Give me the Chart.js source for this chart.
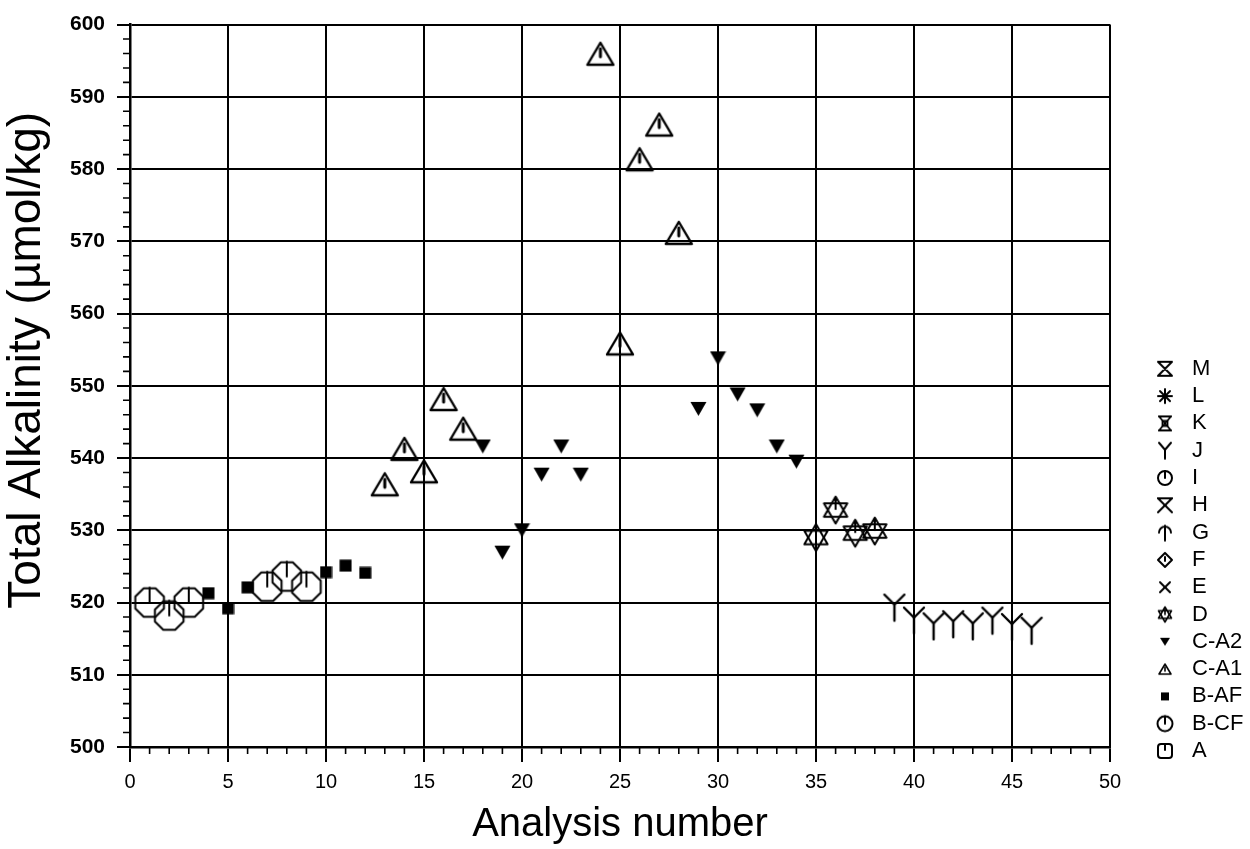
<!DOCTYPE html>
<html>
<head>
<meta charset="utf-8">
<script src="https://cdn.jsdelivr.net/npm/chart.js@4.4.0/dist/chart.umd.min.js"></script>
<style>
  html, body { margin: 0; padding: 0; background: #fff; }
  #wrap { width: 1250px; height: 849px; }
</style>
</head>
<body>
<div id="wrap"><canvas id="alkChart"></canvas></div>
<script>
// series names in legend order (drawn bottom-up, A at the bottom)
const seriesNames = ['A', 'B-CF', 'B-AF', 'C-A1', 'C-A2', 'D', 'E', 'F', 'G', 'H', 'I', 'J', 'K', 'L', 'M'];

// analysis number / total alkalinity (umol/kg)
const bcfX = [1, 2, 3, 7, 8, 9];
const bcfY = [520, 518.2, 520, 522.2, 523.6, 522.2];
const bafX = [4, 5, 6, 10, 11, 12];
const bafY = [521.3, 519.2, 522.1, 524.2, 525.1, 524.1];
const ca1X = [13, 14, 15, 16, 17, 24, 25, 26, 27, 28];
const ca1Y = [536.3, 541.2, 538.1, 548.1, 544, 595.9, 555.8, 581.3, 586.1, 571.1];
const ca2X = [18, 19, 20, 21, 22, 23, 29, 30, 31, 32, 33, 34];
const ca2Y = [541.6, 526.9, 530, 537.7, 541.6, 537.7, 546.8, 553.8, 548.8, 546.6, 541.6, 539.5];
const dX = [35, 36, 37, 38];
const dY = [529, 532.8, 529.6, 529.9];
const jX = [39, 40, 41, 42, 43, 44, 45, 46];
const jY = [519.3, 517.5, 516.7, 517, 516.7, 517.5, 516.6, 516.1];

// axes
const xTickValues = [0, 5, 10, 15, 20, 25, 30, 35, 40, 45, 50];
const yTickValues = [500, 510, 520, 530, 540, 550, 560, 570, 580, 590, 600];
const xMinorStep = 1;
const yMinorStep = 2;

const seriesData = {
  'B-CF': [bcfX, bcfY],
  'B-AF': [bafX, bafY],
  'C-A1': [ca1X, ca1Y],
  'C-A2': [ca2X, ca2Y],
  'D': [dX, dY],
  'J': [jX, jY]
};

const FONT = '"Liberation Sans", Arial, Helvetica, sans-serif';

// ---- marker glyphs, drawn on little canvases ----
function icon(w, h, draw, lw) {
  const c = document.createElement('canvas');
  c.width = w; c.height = h;
  const g = c.getContext('2d');
  g.strokeStyle = '#000'; g.fillStyle = '#000';
  g.lineWidth = lw || 2; g.lineJoin = 'round'; g.lineCap = 'round';
  draw(g);
  return c;
}
function line(g, x1, y1, x2, y2) {
  g.beginPath(); g.moveTo(x1, y1); g.lineTo(x2, y2); g.stroke();
}
function poly(g, pts, fill) {
  g.beginPath();
  pts.forEach((p, i) => i ? g.lineTo(p[0], p[1]) : g.moveTo(p[0], p[1]));
  g.closePath();
  fill ? g.fill() : g.stroke();
}
function octagon(g, cx, cy, r) {
  const pts = [];
  for (let i = 0; i < 8; i++) {
    const a = Math.PI / 8 + i * Math.PI / 4;
    pts.push([cx + r * Math.cos(a), cy + r * Math.sin(a)]);
  }
  poly(g, pts);
}
function hexagram(g, cx, cy, r) {
  const up = [], dn = [];
  for (let i = 0; i < 3; i++) {
    const a = -Math.PI / 2 + i * 2 * Math.PI / 3;
    up.push([cx + r * Math.cos(a), cy + r * Math.sin(a)]);
    dn.push([cx + r * Math.cos(a + Math.PI), cy + r * Math.sin(a + Math.PI)]);
  }
  poly(g, up); poly(g, dn);
}

const plotIcons = {
  'B-CF': icon(34, 34, g => { octagon(g, 17, 17, 15.5); line(g, 17, 2, 17, 17); }),
  'B-AF': icon(13, 13, g => g.fillRect(0.5, 0.5, 12, 12)),
  'C-A1': icon(30, 27, g => { poly(g, [[15, 2], [28, 24], [2, 24]]); g.lineWidth = 3; line(g, 15, 8, 15, 16); }, 2.4),
  'C-A2': icon(17, 16, g => poly(g, [[0.5, 1], [16.5, 1], [8.5, 15]], true)),
  'D': icon(30, 32, g => { hexagram(g, 15, 16, 13.5); line(g, 15, 4, 15, 15); }),
  'J': icon(24, 30, g => { line(g, 2, 2, 12, 12); line(g, 22, 2, 12, 12); line(g, 12, 12, 12, 28); }, 2.4)
};

const legendIcons = {
  'M': icon(20, 20, g => poly(g, [[3, 3], [17, 3], [3, 17], [17, 17]])),
  'L': icon(20, 20, g => { line(g, 10, 3, 10, 17); line(g, 3, 10, 17, 10); line(g, 5, 5, 15, 15); line(g, 15, 5, 5, 15); }),
  'K': icon(20, 20, g => { line(g, 4, 3, 16, 3); line(g, 4, 17, 16, 17); line(g, 4, 3, 16, 17); line(g, 16, 3, 4, 17); g.strokeRect(7.5, 7.5, 5, 5); }, 1.8),
  'J': icon(20, 20, g => { line(g, 4, 2, 10, 9); line(g, 16, 2, 10, 9); line(g, 10, 9, 10, 18); }),
  'I': icon(20, 20, g => { g.beginPath(); g.arc(10, 10, 7, 0, 2 * Math.PI); g.stroke(); line(g, 10, 3, 10, 10); }),
  'H': icon(20, 20, g => { line(g, 3, 3, 17, 3); line(g, 3, 3, 17, 17); line(g, 17, 3, 3, 17); }),
  'G': icon(20, 20, g => { line(g, 10, 3, 10, 18); g.beginPath(); g.arc(10, 10, 6, Math.PI, 0); g.stroke(); }),
  'F': icon(20, 20, g => { poly(g, [[10, 3], [17, 10], [10, 17], [3, 10]]); line(g, 10, 7, 10, 11); }),
  'E': icon(20, 20, g => { line(g, 5, 5, 15, 15); line(g, 15, 5, 5, 15); }),
  'D': icon(20, 20, g => { hexagram(g, 10, 10, 7.5); line(g, 10, 4, 10, 10); }, 1.6),
  'C-A2': icon(20, 20, g => poly(g, [[5, 6], [15, 6], [10, 14]], true)),
  'C-A1': icon(20, 20, g => { poly(g, [[10, 5], [16, 15], [4, 15]]); line(g, 10, 8, 10, 12); }, 1.6),
  'B-AF': icon(20, 20, g => g.fillRect(6, 6, 8, 8)),
  'B-CF': icon(20, 20, g => { g.beginPath(); g.arc(10, 10, 7.5, 0, 2 * Math.PI); g.stroke(); line(g, 10, 2.5, 10, 10); }),
  'A': icon(20, 20, g => { g.beginPath(); g.roundRect(3, 3, 14, 14, 3); g.stroke(); line(g, 10, 3, 10, 9); })
};

// legend at the right, bottom-aligned with the plot
const sideLegend = {
  id: 'sideLegend',
  afterDraw(chart) {
    const { ctx, chartArea } = chart;
    const names = seriesNames.slice().reverse();
    ctx.save();
    ctx.font = '22px ' + FONT;
    ctx.fillStyle = '#000';
    ctx.textBaseline = 'middle';
    names.forEach((name, i) => {
      const yy = chartArea.bottom + 4 - (names.length - 1 - i) * 27.3;
      const img = legendIcons[name];
      ctx.drawImage(img, chartArea.right + 55 - img.width / 2, yy - img.height / 2);
      ctx.fillText(name, chartArea.right + 82, yy);
    });
    ctx.restore();
  }
};

// minor ticks on both axes
const minorTicks = {
  id: 'minorTicks',
  afterDraw(chart) {
    const { ctx, chartArea, scales: { x, y } } = chart;
    ctx.save();
    ctx.strokeStyle = '#000';
    ctx.lineWidth = 1.6;
    ctx.beginPath();
    for (let v = x.min; v <= x.max; v += xMinorStep) {
      if (xTickValues.includes(v)) continue;
      const px = x.getPixelForValue(v);
      ctx.moveTo(px, chartArea.bottom);
      ctx.lineTo(px, chartArea.bottom + 7);
    }
    for (let v = y.min; v <= y.max; v += yMinorStep) {
      if (yTickValues.includes(v)) continue;
      const py = y.getPixelForValue(v);
      ctx.moveTo(chartArea.left - 7, py);
      ctx.lineTo(chartArea.left, py);
    }
    ctx.stroke();
    ctx.restore();
  }
};

const datasets = seriesNames.map(name => {
  const d = seriesData[name];
  return {
    label: name,
    data: d ? d[0].map((xv, i) => ({ x: xv, y: d[1][i] })) : [],
    pointStyle: plotIcons[name] || 'circle',
    pointRadius: 10,
    showLine: false
  };
});

new Chart(document.getElementById('alkChart'), {
  type: 'scatter',
  data: { datasets },
  options: {
    responsive: true,
    maintainAspectRatio: false,
    animation: false,
    layout: { padding: { top: 20, right: 140, left: 0, bottom: 0 } },
    plugins: {
      legend: { display: false },
      tooltip: { enabled: false }
    },
    scales: {
      x: {
        type: 'linear',
        min: xTickValues[0],
        max: xTickValues[xTickValues.length - 1],
        afterBuildTicks: s => { s.ticks = xTickValues.map(v => ({ value: v })); },
        afterFit: s => { s.height = 102; },
        grid: { color: '#000', lineWidth: 2, tickLength: 15, tickWidth: 2, tickColor: '#000' },
        border: { color: '#000', width: 2.5 },
        ticks: { color: '#000', padding: 8, maxRotation: 0, font: { family: FONT, size: 20 } },
        title: {
          display: true,
          text: 'Analysis number',
          color: '#000',
          padding: { top: 0, bottom: 0 },
          font: { family: FONT, size: 40 }
        }
      },
      y: {
        min: yTickValues[0],
        max: yTickValues[yTickValues.length - 1],
        afterBuildTicks: s => { s.ticks = yTickValues.map(v => ({ value: v })); },
        afterFit: s => { s.width = 130; },
        grid: { color: '#000', lineWidth: 2, tickLength: 13, tickWidth: 2, tickColor: '#000' },
        border: { color: '#000', width: 2.5 },
        ticks: { color: '#000', padding: 12, font: { family: FONT, size: 21, weight: 'bold' } },
        title: {
          display: true,
          // leading no-break spaces nudge the centred title up a little, as in the original
          text: '\u00A0\u00A0\u00A0\u00A0Total Alkalinity (µmol/kg)',
          color: '#000',
          padding: { top: 0, bottom: 0 },
          font: { family: FONT, size: 46 }
        }
      }
    }
  },
  plugins: [minorTicks, sideLegend]
});
</script>
</body>
</html>
